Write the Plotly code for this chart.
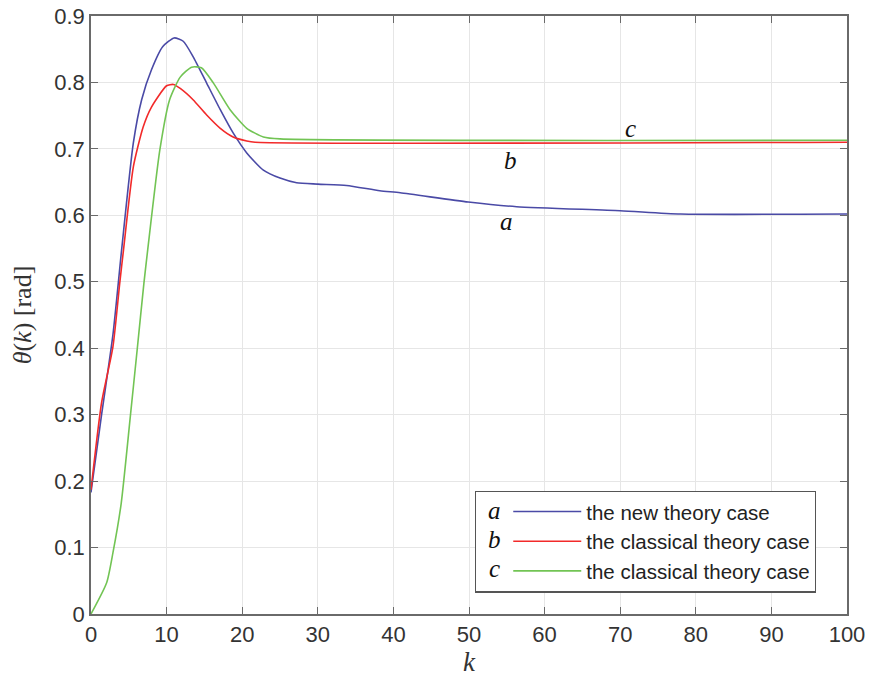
import plotly.graph_objects as go

# ---- data ----
k_a = [0, 1.4, 2.9, 4.05, 5.6, 6.7, 8.0, 9.5, 11.0, 12.2, 13.5, 15.3, 17.1, 18.8, 20.6,
       22.8, 25.0, 27.2, 30.0, 33.8, 38.2, 40.9, 49.9, 56.3, 70.0, 78.0, 100]
theta_a = [0.183, 0.30, 0.42, 0.548, 0.709, 0.774, 0.819, 0.854, 0.867, 0.862, 0.839,
           0.799, 0.759, 0.724, 0.694, 0.668, 0.656, 0.649, 0.647, 0.645, 0.637, 0.634,
           0.620, 0.613, 0.607, 0.602, 0.602]

k_b = [0, 1.4, 2.9, 3.8, 4.3, 5.6, 6.9, 8.0, 10.0, 10.9, 11.8, 13.5, 15.3, 17.1, 18.8,
       20.6, 21.7, 100]
theta_b = [0.187, 0.318, 0.402, 0.498, 0.548, 0.673, 0.733, 0.763, 0.795, 0.797, 0.791,
           0.774, 0.751, 0.731, 0.718, 0.712, 0.710, 0.710]

k_c = [0, 2.07, 2.9, 4.0, 5.2, 6.1, 7.0, 7.5, 9.1, 10.4, 11.8, 13.3, 14.6, 16.2, 18.4,
       20.6, 22.8, 25.0, 100]
theta_c = [0.0, 0.047, 0.092, 0.167, 0.297, 0.397, 0.498, 0.548, 0.698, 0.774, 0.808,
           0.823, 0.822, 0.799, 0.759, 0.731, 0.718, 0.715, 0.713]

series_names = ["the new theory case", "the classical theory case", "the classical theory case"]
series_letters = ["a", "b", "c"]
series_colors = ["#4a4aa6", "#f22a2a", "#72c454"]

x_ticks = list(range(0, 101, 10))
y_ticks = [round(0.1 * i, 1) for i in range(10)]
y_tick_text = ["0"] + [f"{v:.1f}" for v in y_ticks[1:]]

# curve label positions (data coords)
label_k = [55, 55.5, 71.3]
label_theta = [0.59, 0.683, 0.73]

serif = "Liberation Serif, Times New Roman, serif"
sans = "Liberation Sans, Arial, Helvetica, sans-serif"

fig = go.Figure()
for kk, th, nm, col in zip([k_a, k_b, k_c], [theta_a, theta_b, theta_c], series_names, series_colors):
    fig.add_trace(go.Scatter(x=kk, y=th, mode="lines", name=nm,
                             line=dict(color=col, width=1.6, shape="spline", smoothing=0.6)))

for lk, lt, letter in zip(label_k, label_theta, series_letters):
    fig.add_annotation(x=lk, y=lt, xref="x", yref="y", text=f"<i>{letter}</i>",
                       showarrow=False, font=dict(family=serif, size=25, color="#111111"))

axis_common = dict(showgrid=True, gridcolor="#e6e6e6", gridwidth=1,
                   showline=True, linecolor="#6a6a6a", linewidth=1.5, mirror="ticks",
                   ticks="inside", ticklen=7, tickcolor="#6a6a6a", tickwidth=1.2,
                   zeroline=False, automargin=False, ticklabeloverflow="allow",
                   tickfont=dict(family=sans, size=22, color="#333333"))

fig.update_xaxes(range=[0, 100], tickvals=x_ticks, ticktext=[str(v) for v in x_ticks],
                 title=dict(text="<i>k</i>", font=dict(family=serif, size=27, color="#333333"),
                            standoff=0),
                 **axis_common)
fig.update_yaxes(range=[0, 0.9], tickvals=y_ticks, ticktext=y_tick_text,
                 title=dict(text="<i>θ</i>(<i>k</i>) [rad]",
                            font=dict(family=serif, size=26, color="#333333"), standoff=15),
                 **axis_common)

# legend: letters drawn as annotations inside the indented legend box
leg_x, leg_y = 0.508, 0.2065
fig.update_layout(
    width=871, height=680,
    margin=dict(l=91, r=24, t=16, b=66),
    plot_bgcolor="white", paper_bgcolor="white",
    showlegend=True,
    legend=dict(x=leg_x, y=leg_y, xanchor="left", yanchor="top",
                bgcolor="white", bordercolor="#555555", borderwidth=1.2,
                font=dict(family=sans, size=20.5, color="#222222"),
                itemwidth=68, indentation=32, tracegroupgap=0),
)
row_y = [0.147, 0.099, 0.050]
for letter, ry in zip(series_letters, row_y):
    fig.add_annotation(x=0.534, y=ry, xref="paper", yref="paper",
                       text=f"<i>{letter}</i>", showarrow=False,
                       font=dict(family=serif, size=25, color="#111111"))

# remove the default page margin so the 871x680 figure fills the window exactly
fig.write_html("out.html",
               config={"displayModeBar": False},
               post_script="document.body.style.margin='0';document.body.style.overflow='hidden';")
